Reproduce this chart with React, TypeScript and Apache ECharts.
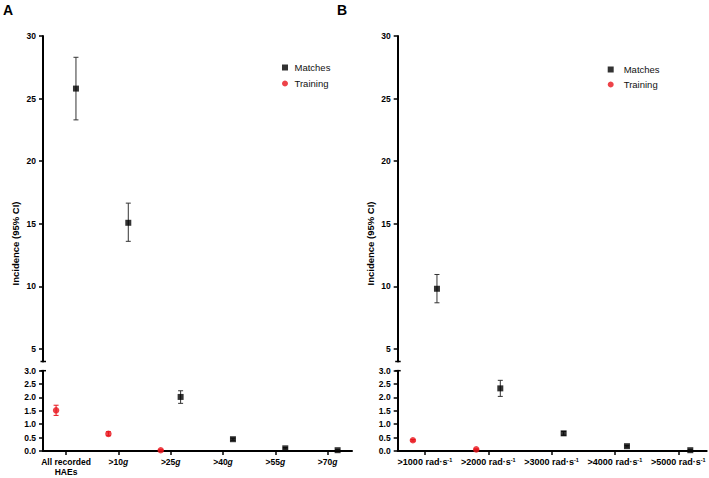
import React, { useEffect, useRef } from "react";
import * as echarts from "echarts";

// Panel A: linear acceleration thresholds
const categoriesA = ["All recorded\nHAEs", ">10g", ">25g", ">40g", ">55g", ">70g"];
const matchesA = [25.8, 15.08, 2.02, 0.44, 0.1, 0.03];
const matchesALow = [23.3, 13.6, 1.78, 0.4, 0.08, 0.02];
const matchesAHigh = [28.3, 16.65, 2.25, 0.48, 0.13, 0.05];
const trainingA = [1.52, 0.64, 0.03];
const trainingALow = [1.33, 0.57, 0.02];
const trainingAHigh = [1.71, 0.72, 0.05];

// Panel B: rotational acceleration thresholds
const categoriesB = [">1000 rad·s-1", ">2000 rad·s-1", ">3000 rad·s-1", ">4000 rad·s-1", ">5000 rad·s-1"];
const matchesB = [9.81, 2.34, 0.66, 0.18, 0.03];
const matchesBLow = [8.69, 2.04, 0.59, 0.15, 0.02];
const matchesBHigh = [10.95, 2.64, 0.73, 0.21, 0.05];
const trainingB = [0.4, 0.06];
const trainingBLow = [0.37, 0.05];
const trainingBHigh = [0.43, 0.08];

const upperTicks = [5, 10, 15, 20, 25, 30];
const legendNames = ["Matches", "Training"];

const FONT = "'Liberation Sans', Arial, Helvetica, sans-serif";
const RED = "#e8141b";
const BREAK = 4; // values at or above this sit on the upper segment

// layout
const TOP_Y = 36;
const TOP_H = 325.5;
const BOT_Y = 370.7;
const BOT_H = 80.3;
const OFFSET = 0.19;

type Group = {
  name: string;
  offset: number;
  color: string;
  bar: string;
  symbol: string;
  size: number;
  mean: number[];
  low: number[];
  high: number[];
};

type Panel = {
  letter: string;
  letterX: number;
  titleX: number;
  left: number;
  width: number;
  xMin: number;
  xMax: number;
  cats: string[];
  catFont: number;
  fmt: (s: string) => string;
  groups: Group[];
  legendLeft: number;
  legendTop: number;
  legendGap: number;
  legendPad: number;
};

const matchesGroup = (mean: number[], low: number[], high: number[]): Group => ({
  name: "Matches",
  offset: OFFSET,
  color: "#000000",
  bar: "#333333",
  symbol: "rect",
  size: 6,
  mean,
  low,
  high,
});
const trainingGroup = (mean: number[], low: number[], high: number[]): Group => ({
  name: "Training",
  offset: -OFFSET,
  color: RED,
  bar: RED,
  symbol: "circle",
  size: 6.5,
  mean,
  low,
  high,
});

const panels: Panel[] = [
  {
    letter: "A",
    letterX: 3,
    titleX: 15.5,
    left: 43,
    width: 309,
    xMin: -0.44,
    xMax: 5.465,
    cats: categoriesA,
    catFont: 8.5,
    fmt: (s) => s.replace(/g$/, "{i|g}"),
    groups: [
      matchesGroup(matchesA, matchesALow, matchesAHigh),
      trainingGroup(trainingA, trainingALow, trainingAHigh),
    ],
    legendLeft: 277,
    legendTop: 56.5,
    legendGap: 4,
    legendPad: 1.5,
  },
  {
    letter: "B",
    letterX: 337,
    titleX: 370.5,
    left: 397.7,
    width: 309,
    xMin: -0.43,
    xMax: 4.449,
    cats: categoriesB,
    catFont: 9,
    fmt: (s) => s.replace("-1", "{sup|-1}"),
    groups: [
      matchesGroup(matchesB, matchesBLow, matchesBHigh),
      trainingGroup(trainingB, trainingBLow, trainingBHigh),
    ],
    legendLeft: 602.7,
    legendTop: 58.5,
    legendGap: 3,
    legendPad: 5,
  },
];

function points(g: Group, upper: boolean) {
  const out: number[][] = [];
  g.mean.forEach((v, i) => {
    if ((v >= BREAK) !== upper) return;
    out.push([i + g.offset, v, g.low[i], g.high[i]]);
  });
  return out;
}

function buildOption() {
  const grid: any[] = [];
  const xAxis: any[] = [];
  const yAxis: any[] = [];
  const series: any[] = [];
  const legend: any[] = [];
  const graphic: any[] = [];

  panels.forEach((p) => {
    [true, false].forEach((upper) => {
      const idx = grid.length;
      grid.push({
        left: p.left,
        top: upper ? TOP_Y : BOT_Y,
        width: p.width,
        height: upper ? TOP_H : BOT_H,
        containLabel: false,
      });
      const ticks = p.cats.map((_, i) => i);
      xAxis.push({
        type: "value",
        gridIndex: idx,
        min: p.xMin,
        max: p.xMax,
        show: !upper,
        splitLine: { show: false },
        axisLine: { show: true, onZero: false, lineStyle: { color: "#000", width: 2 } },
        axisTick: {
          show: true,
          customValues: ticks,
          length: 4,
          lineStyle: { color: "#000", width: 1.5 },
        },
        axisLabel: {
          customValues: ticks,
          margin: 6,
          color: "#000",
          fontFamily: FONT,
          fontSize: p.catFont,
          fontWeight: "bold",
          lineHeight: 10,
          formatter: (v: number) => p.fmt(p.cats[Math.round(v)] ?? ""),
          rich: {
            i: { fontFamily: FONT, fontSize: p.catFont, fontWeight: "bold", fontStyle: "italic", color: "#000" },
            sup: {
              fontFamily: FONT,
              fontSize: 5.5,
              fontWeight: "bold",
              color: "#000",
              verticalAlign: "top",
              lineHeight: 6,
            },
          },
        },
      });
      yAxis.push(
        upper
          ? {
              type: "value",
              gridIndex: idx,
              min: BREAK,
              max: 30,
              splitLine: { show: false },
              axisLine: { show: true, onZero: false, lineStyle: { color: "#000", width: 2 } },
              axisTick: { show: true, customValues: upperTicks, length: 4, lineStyle: { color: "#000", width: 1.5 } },
              axisLabel: {
                customValues: upperTicks,
                margin: 7,
                color: "#000",
                fontFamily: FONT,
                fontSize: 8.5,
                fontWeight: "bold",
              },
            }
          : {
              type: "value",
              gridIndex: idx,
              min: 0,
              max: 3,
              interval: 0.5,
              splitLine: { show: false },
              axisLine: { show: true, onZero: false, lineStyle: { color: "#000", width: 2 } },
              axisTick: { show: true, length: 4, lineStyle: { color: "#000", width: 1.5 } },
              axisLabel: {
                margin: 7,
                color: "#000",
                fontFamily: FONT,
                fontSize: 8.5,
                fontWeight: "bold",
                formatter: (v: number) => v.toFixed(1),
              },
            }
      );

      p.groups.forEach((g) => {
        const data = points(g, upper);
        if (!data.length) return;
        series.push({
          type: "custom",
          name: g.name + " CI",
          xAxisIndex: idx,
          yAxisIndex: idx,
          clip: false,
          encode: { x: 0, y: 1 },
          data,
          renderItem: (_params: any, api: any) => {
            const x = api.value(0);
            const hi = api.coord([x, api.value(3)]);
            const lo = api.coord([x, api.value(2)]);
            const w = 2.5;
            const style = { stroke: g.bar, lineWidth: 1 };
            return {
              type: "group",
              children: [
                { type: "line", shape: { x1: hi[0], y1: hi[1], x2: lo[0], y2: lo[1] }, style },
                { type: "line", shape: { x1: hi[0] - w, y1: hi[1], x2: hi[0] + w, y2: hi[1] }, style },
                { type: "line", shape: { x1: lo[0] - w, y1: lo[1], x2: lo[0] + w, y2: lo[1] }, style },
              ],
            };
          },
          z: 2,
        });
        series.push({
          type: "scatter",
          name: g.name,
          xAxisIndex: idx,
          yAxisIndex: idx,
          symbol: g.symbol,
          symbolSize: g.size,
          itemStyle: { color: g.color },
          data: data.map((d) => [d[0], d[1]]),
          z: 3,
        });
      });
    });

    legend.push({
      orient: "vertical",
      left: p.legendLeft,
      top: p.legendTop,
      itemWidth: 6,
      itemHeight: 6,
      itemGap: p.legendGap,
      selectedMode: false,
      data: legendNames.map((n) => ({
        name: n,
        icon: n === "Matches" ? "rect" : "circle",
        itemStyle: { color: n === "Matches" ? "#000" : RED },
      })),
      textStyle: {
        fontFamily: FONT,
        fontSize: 9.5,
        color: "#111",
        lineHeight: 12,
        padding: [0, 0, 0, p.legendPad],
      },
    });

    // panel letter
    graphic.push({
      type: "text",
      left: p.letterX,
      top: 3,
      style: { text: p.letter, fontFamily: FONT, fontSize: 14, fontWeight: "bold", fill: "#000" },
    });
    // y-axis title, spanning both segments
    graphic.push({
      type: "text",
      x: p.titleX,
      y: (TOP_Y + BOT_Y + BOT_H) / 2,
      rotation: Math.PI / 2,
      style: {
        text: "Incidence (95% CI)",
        fontFamily: FONT,
        fontSize: 9.5,
        fontWeight: "bold",
        fill: "#000",
        align: "center",
        verticalAlign: "middle",
      },
    });
    // axis break caps
    [TOP_Y + TOP_H, BOT_Y].forEach((y) => {
      graphic.push({
        type: "line",
        shape: { x1: p.left - 2.5, y1: y, x2: p.left + 3, y2: y },
        style: { stroke: "#000", lineWidth: 1.5 },
      });
    });
  });

  return {
    animation: false,
    backgroundColor: "#fff",
    textStyle: { fontFamily: FONT },
    grid,
    xAxis,
    yAxis,
    series,
    legend,
    graphic,
  };
}

export default function App() {
  const ref = useRef<HTMLDivElement>(null);
  useEffect(() => {
    if (!ref.current) return;
    const chart = echarts.init(ref.current, null, { renderer: "svg" });
    chart.setOption(buildOption() as any);
    return () => chart.dispose();
  }, []);
  return (
    <div
      ref={ref}
      style={{ position: "fixed", left: 0, top: 0, width: 709, height: 478, background: "#fff" }}
    />
  );
}
